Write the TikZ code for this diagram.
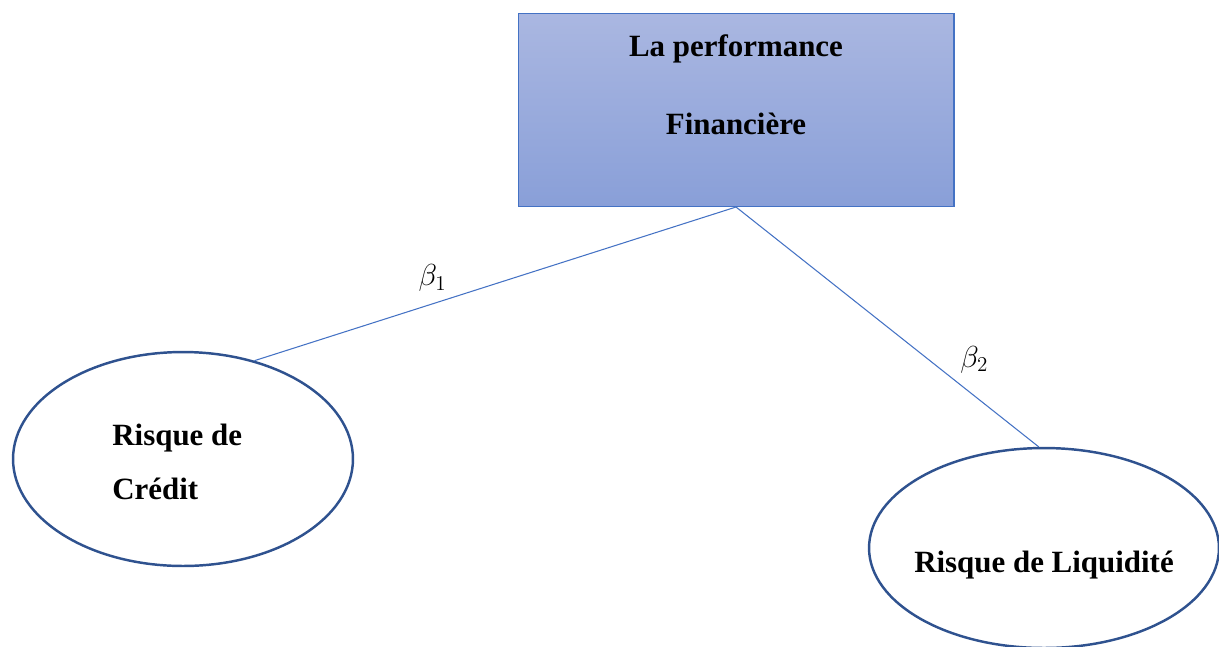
\documentclass[tikz,border=0pt]{standalone}
\usepackage{fontspec}
\setmainfont{Liberation Serif}
\usetikzlibrary{shapes.geometric}

\definecolor{boxtop}{RGB}{170,183,225}
\definecolor{boxbot}{RGB}{137,159,216}
\definecolor{boxline}{RGB}{68,114,196}
\definecolor{ovalline}{RGB}{47,82,143}

\begin{document}
\begin{tikzpicture}[x=0.02cm,y=-0.02cm]
\tikzstyle{every node}=[font=\fontsize{17.6}{21}\selectfont\bfseries]
\tikzstyle{factor}=[ellipse, draw=ovalline, line width=1.4pt, fill=white, inner sep=0pt]
\tikzstyle{link}=[draw=boxline, line width=0.6pt]
\clip (0,0) rectangle (1219,646);
\draw (736,110) node (perf) [rectangle, draw=boxline, line width=0.6pt, top color=boxtop, bottom color=boxbot, minimum width=8.72cm, minimum height=3.86cm] {};
\draw (perf.north) node (perftxt) [anchor=north, align=center, inner sep=0pt, yshift=-0.42cm] {La performance\\[0.82cm]Financière};
\draw (183,459) node (credit) [factor, minimum width=6.8cm, minimum height=4.28cm] {};
\draw (credit.center) node (credittxt) [anchor=west, align=left, inner sep=0pt, xshift=-1.42cm, yshift=-0.06cm] {Risque de\\[0.34cm]Crédit};
\draw (1044,548) node (liq) [factor, minimum width=7cm, minimum height=4cm] {};
\draw (liq.center) node (liqtxt) [inner sep=0pt, yshift=-0.34cm] {Risque de Liquidité};
\draw[link] (perf.south) -- node[pos=0.63, above, font=\fontsize{17.6}{21}\selectfont, yshift=0.12cm] (b1) {$\beta_1$} (credit.54);
\draw[link] (perf.south) -- node[pos=0.72, above right, font=\fontsize{17.6}{21}\selectfont] (b2) {$\beta_2$} (liq.93);
\end{tikzpicture}
\end{document}
